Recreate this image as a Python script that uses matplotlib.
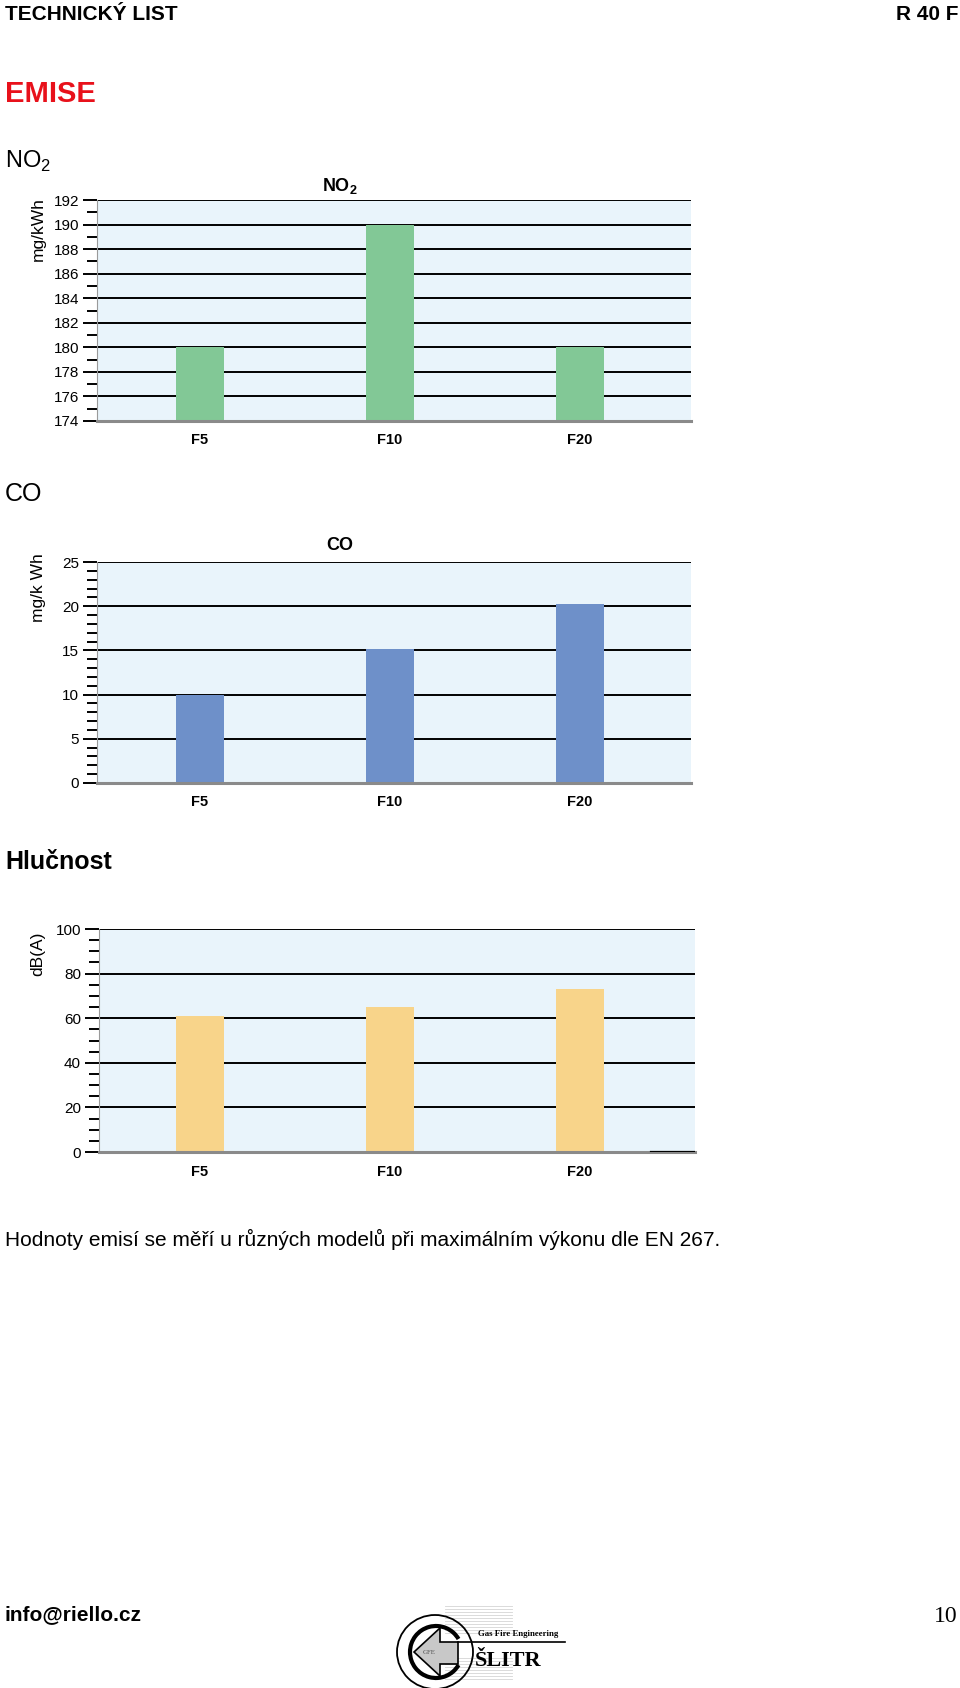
import matplotlib
matplotlib.use('Agg')
import matplotlib.pyplot as plt
from matplotlib.patches import Ellipse, Arc, Polygon
from matplotlib.ticker import MultipleLocator

# data
categories = ['F5', 'F10', 'F20']
no2_values = [180, 190, 180]
co_values = [10, 15.2, 20.2]
noise_values = [61, 65, 73]

W, H = 960, 1688
plt.rcParams['font.family'] = ['Liberation Sans', 'DejaVu Sans']
plt.rcParams['mathtext.fontset'] = 'custom'
plt.rcParams['mathtext.rm'] = 'Liberation Sans'
plt.rcParams['mathtext.bf'] = 'Liberation Sans:bold'

fig = plt.figure(figsize=(W / 100, H / 100), dpi=100)
serif = ['Liberation Serif', 'DejaVu Serif']


def fx(x):
    return x / W


def fy(y):
    return 1 - y / H


def px_axes(left, top, right, bottom):
    return fig.add_axes([fx(left), fy(bottom), (right - left) / W, (bottom - top) / H])


def bar_chart(ax, values, color, ylo, yhi, major, minor, centre0):
    left_px = ax.get_position().x0 * W
    right_px = ax.get_position().x1 * W
    step = 190.0
    ax.set_xlim(-(centre0 - left_px) / step, (right_px - centre0) / step)
    ax.set_ylim(ylo, yhi)
    ax.set_facecolor('#e9f4fb')
    x = range(len(categories))
    ax.bar(x, values, width=0.253, color=color, zorder=3)
    ax.yaxis.set_major_locator(MultipleLocator(major))
    ax.yaxis.set_minor_locator(MultipleLocator(minor))
    ax.grid(axis='y', which='major', color='black', lw=1.4, zorder=1)
    ax.set_axisbelow(True)
    ax.tick_params(axis='y', which='major', length=10, width=1.4, pad=3,
                   labelsize=11, colors='black')
    ax.tick_params(axis='y', which='minor', length=7, width=1.4)
    ax.set_xticks(list(x))
    ax.set_xticklabels(categories, fontweight='bold', fontsize=10.5)
    ax.tick_params(axis='x', length=0, pad=9)
    for s in ['top', 'right']:
        ax.spines[s].set_visible(False)
    ax.spines['left'].set_color('#9a9a9a')
    ax.spines['left'].set_linewidth(0.8)
    ax.spines['bottom'].set_color('#8a8a8a')
    ax.spines['bottom'].set_linewidth(2.2)
    ax.spines['bottom'].set_zorder(4)


# header
fig.text(fx(5), fy(14), 'TECHNICKÝ LIST', fontsize=15, fontweight='bold', va='center')
fig.text(fx(958), fy(14), 'R 40 F', fontsize=15, fontweight='bold', va='center', ha='right')
fig.text(fx(5), fy(94), 'EMISE', fontsize=21, fontweight='bold', color='#e8111b', va='center')

# NO2 chart
fig.text(fx(5), fy(161), 'NO$_2$', fontsize=17, va='center')
ax1 = px_axes(97, 200, 691, 421)
bar_chart(ax1, no2_values, '#82c896', 174, 192, 2, 1, 200)
fig.text(fx(340), fy(186), r'$\mathbf{NO_2}$', fontsize=13, ha='center', va='center')
fig.text(fx(38), fy(229), 'mg/kWh', rotation=90, fontsize=12.5, ha='center', va='center')

# CO chart
fig.text(fx(5), fy(494), 'CO', fontsize=18, va='center')
ax2 = px_axes(97, 562, 691, 783)
bar_chart(ax2, co_values, '#6e90c9', 0, 25, 5, 1, 200)
fig.text(fx(340), fy(546), 'CO', fontsize=13, fontweight='bold', ha='center', va='center')
fig.text(fx(38), fy(588), 'mg/k Wh', rotation=90, fontsize=12.5, ha='center', va='center')

# noise chart
fig.text(fx(5), fy(862), 'Hlučnost', fontsize=18, fontweight='bold', va='center')
ax3 = px_axes(99, 929, 695, 1152)
bar_chart(ax3, noise_values, '#f8d48a', 0, 100, 20, 5, 200)
ax3.axhline(0, xmin=(651 - 99) / (695 - 99), xmax=1, color='black', lw=1.6, zorder=5)
fig.text(fx(38), fy(954), 'dB(A)', rotation=90, fontsize=12.5, ha='center', va='center')

fig.text(fx(5), fy(1239), 'Hodnoty emisí se měří u různých modelů při maximálním výkonu dle EN 267.',
         fontsize=15, va='center')

# footer
fig.text(fx(5), fy(1615), 'info@riello.cz', fontsize=15, fontweight='bold', va='center')
fig.text(fx(958), fy(1617), '10', fontsize=17, va='center', ha='right', fontfamily=serif)

# logo
lg = px_axes(380, 1590, 580, 1688)
lg.set_xlim(380, 580)
lg.set_ylim(1688, 1590)
lg.axis('off')
for yy in list(range(1606, 1636, 3)) + list(range(1658, 1680, 3)):
    lg.plot([445, 512], [yy, yy], color='#d4d4d4', lw=0.6, zorder=0)
lg.add_patch(Ellipse((435, 1652), 76, 74, fill=False, ec='black', lw=1.3, zorder=2))
lg.add_patch(Arc((436, 1652), 52, 52, theta1=30, theta2=330, ec='black', lw=3, zorder=2))
lg.add_patch(Polygon([(414, 1652), (440, 1628), (440, 1642), (458, 1642),
                      (458, 1664), (440, 1664), (440, 1676)],
                     closed=True, fc='#c8c8c8', ec='black', lw=1.2, zorder=3))
lg.plot([458, 565], [1642, 1642], color='black', lw=1.2, zorder=3)
lg.text(429, 1652, 'GFE', fontsize=5, ha='center', va='center', color='#555555', zorder=4,
        fontfamily=serif)
lg.text(478, 1638, 'Gas Fire Engineering', fontsize=6.3, fontweight='bold', va='bottom',
        fontfamily=serif)
lg.text(475, 1661, 'ŠLITR', fontsize=16, fontweight='bold', va='center', fontfamily=serif)

fig.savefig('out.png', dpi=100)
